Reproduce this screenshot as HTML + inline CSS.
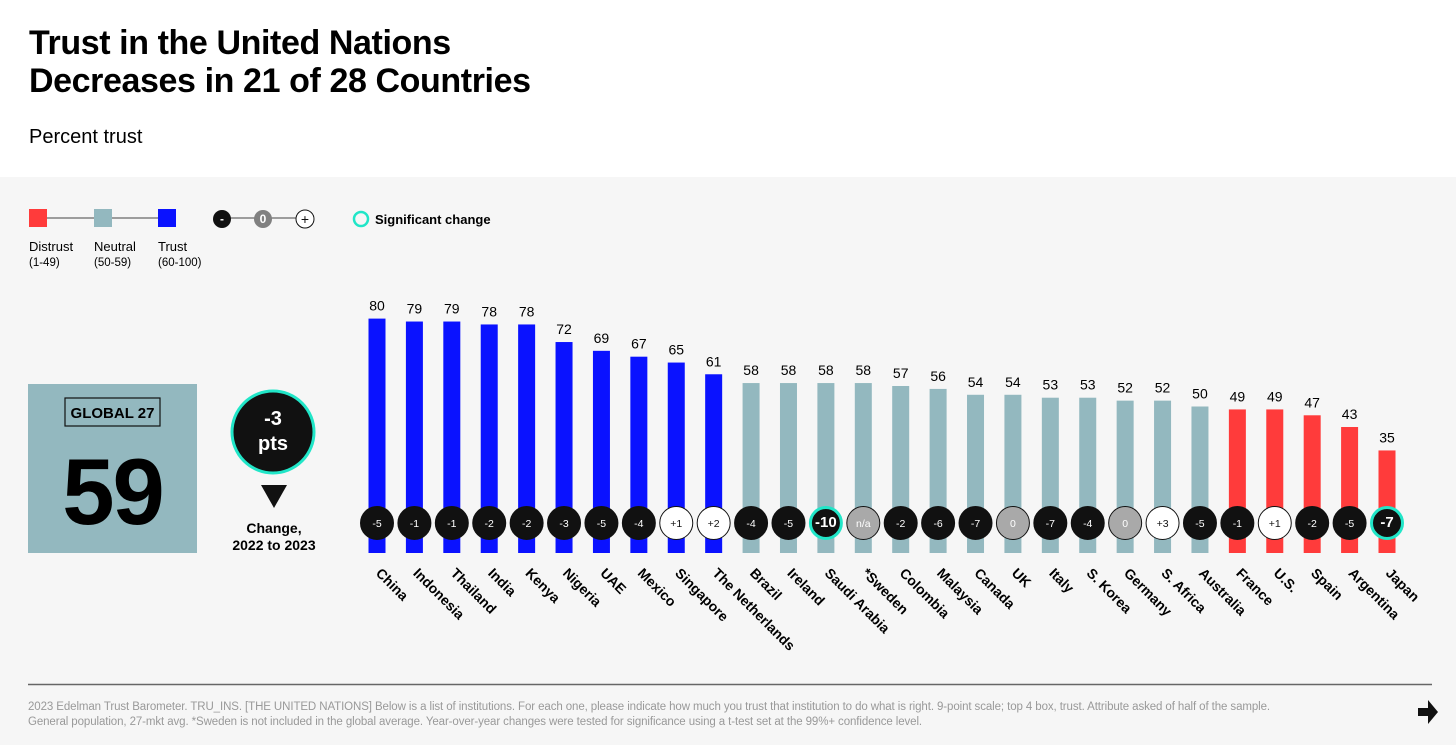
<!DOCTYPE html>
<html><head><meta charset="utf-8">
<style>
body{margin:0;width:1456px;height:745px;overflow:hidden;background:#fff;font-family:"Liberation Sans",Arial,sans-serif;}
#panel{position:absolute;left:0;top:177px;width:1456px;height:568px;background:#f6f6f6;}
h1{position:absolute;left:29px;top:24px;margin:0;font-size:34px;line-height:38px;font-weight:bold;letter-spacing:-0.4px;color:#000;}
.sub{position:absolute;left:29px;top:126px;font-size:20px;color:#000;}
.foot{position:absolute;left:28px;top:700px;font-size:11.5px;line-height:15px;color:#999;letter-spacing:-0.1px;}
</style></head><body>
<h1>Trust in the United Nations<br>Decreases in 21 of 28 Countries</h1>
<div class="sub">Percent trust</div>
<div id="panel"></div>
<svg id="chart" width="1456" height="745" style="position:absolute;left:0;top:0">
 <g font-family="Liberation Sans, Arial, sans-serif">
  <line x1="38" y1="218" x2="167" y2="218" stroke="#444" stroke-width="1"/>
  <rect x="29" y="209" width="18" height="18" fill="#ff3b3b"/>
  <rect x="94" y="209" width="18" height="18" fill="#93b8bf"/>
  <rect x="158" y="209" width="18" height="18" fill="#0a12ff"/>
  <text x="29" y="251" font-size="13">Distrust</text><text x="29" y="266" font-size="11.5">(1-49)</text>
  <text x="94" y="251" font-size="13">Neutral</text><text x="94" y="266" font-size="11.5">(50-59)</text>
  <text x="158" y="251" font-size="13">Trust</text><text x="158" y="266" font-size="11.5">(60-100)</text>
  <line x1="222" y1="218" x2="305" y2="218" stroke="#444"/>
  <circle cx="222" cy="219" r="9" fill="#111"/>
  <text x="222" y="223" font-size="12" font-weight="bold" fill="#fff" text-anchor="middle">-</text>
  <circle cx="263" cy="219" r="9" fill="#808080"/>
  <text x="263" y="223" font-size="12" font-weight="bold" fill="#fff" text-anchor="middle">0</text>
  <circle cx="305" cy="219" r="9" fill="#fff" stroke="#111"/>
  <text x="305" y="224" font-size="14" fill="#111" text-anchor="middle">+</text>
  <circle cx="361" cy="219" r="7" fill="none" stroke="#21e6c8" stroke-width="2.5"/>
  <text x="375" y="224" font-size="13" font-weight="bold">Significant change</text>
 </g>
 <g>
  <rect x="28" y="384" width="169" height="169" fill="#93b8bf"/>
  <rect x="65" y="398" width="95" height="28" fill="none" stroke="#111" stroke-width="1.2"/>
  <text x="112.5" y="418" font-size="15" font-weight="bold" text-anchor="middle">GLOBAL 27</text>
  <text x="112.5" y="524" font-size="94" font-weight="bold" text-anchor="middle" letter-spacing="-2">59</text>
 </g>
 <g>
  <circle cx="273" cy="432" r="41" fill="#111" stroke="#21e6c8" stroke-width="3"/>
  <text x="273" y="425" font-size="20" font-weight="bold" fill="#fff" text-anchor="middle">-3</text>
  <text x="273" y="450" font-size="20" font-weight="bold" fill="#fff" text-anchor="middle">pts</text>
  <polygon points="261,485 287,485 274,508" fill="#111"/>
  <text x="274" y="533" font-size="14" font-weight="bold" text-anchor="middle">Change,</text>
  <text x="274" y="550" font-size="14" font-weight="bold" text-anchor="middle">2022 to 2023</text>
 </g>
 <g id="bars"></g>
 <line x1="28" y1="684.5" x2="1432" y2="684.5" stroke="#666" stroke-width="1.5"/>
 <polygon points="1418,708 1428,708 1428,700 1438,712 1428,724 1428,716 1418,716" fill="#111"/>
</svg>
<div class="foot">2023 Edelman Trust Barometer. TRU_INS. [THE UNITED NATIONS] Below is a list of institutions. For each one, please indicate how much you trust that institution to do what is right. 9-point scale; top 4 box, trust. Attribute asked of half of the sample.<br>General population, 27-mkt avg. *Sweden is not included in the global average. Year-over-year changes were tested for significance using a t-test set at the 99%+ confidence level.</div>
<script>
const countries=["China","Indonesia","Thailand","India","Kenya","Nigeria","UAE","Mexico","Singapore","The Netherlands","Brazil","Ireland","Saudi Arabia","*Sweden","Colombia","Malaysia","Canada","UK","Italy","S. Korea","Germany","S. Africa","Australia","France","U.S.","Spain","Argentina","Japan"];
const values=[80,79,79,78,78,72,69,67,65,61,58,58,58,58,57,56,54,54,53,53,52,52,50,49,49,47,43,35];
const changes=["-5","-1","-1","-2","-2","-3","-5","-4","+1","+2","-4","-5","-10","n/a","-2","-6","-7","0","-7","-4","0","+3","-5","-1","+1","-2","-5","-7"];
const significant=["Saudi Arabia","Japan"];
const NS="http://www.w3.org/2000/svg";
const x0=377,step=(1387-377)/27,base=553,ppu=2.93;
const xs=i=>x0+i*step, ys=v=>base-v*ppu;
const g=document.getElementById('bars');
function mk(t,a){const e=document.createElementNS(NS,t);for(const k in a)e.setAttribute(k,a[k]);return e;}
countries.forEach((c,i)=>{
 const v=values[i],x=xs(i);
 const col=v>=60?"#0a12ff":v>=50?"#93b8bf":"#ff3b3b";
 const r=mk('rect',{x:x-8.5,y:ys(v),width:17,height:base-ys(v),fill:col});
 
 
 g.appendChild(r);
 const t=mk('text',{x:x,y:ys(v)-8,'font-size':14,'text-anchor':'middle'});t.textContent=v;
 
 
 g.appendChild(t);
 const ch=changes[i],sig=significant.includes(c);
 const fill=ch==="n/a"?"#a9a9a9":ch==="0"?"#a9a9a9":ch[0]==="+"?"#fff":"#111";
 const ci=mk('circle',{cx:x,cy:523,r:sig?15.5:16.5,fill:fill,stroke:sig?"#21e6c8":"#111",'stroke-width':sig?3:1});
 
 
 g.appendChild(ci);
 const ct=mk('text',{x:x,y:527,'font-size':sig?15:10.5,'font-weight':sig?'bold':'normal','text-anchor':'middle',fill:(fill==="#fff"?"#111":"#fff")});ct.textContent=ch;
 
 
 g.appendChild(ct);
 const lt=mk('text',{x:0,y:0,'font-size':14,'font-weight':'bold',transform:`translate(${x-2},${574}) rotate(45)`});lt.textContent=c;
 
 
 g.appendChild(lt);
});
</script>
</body></html>
